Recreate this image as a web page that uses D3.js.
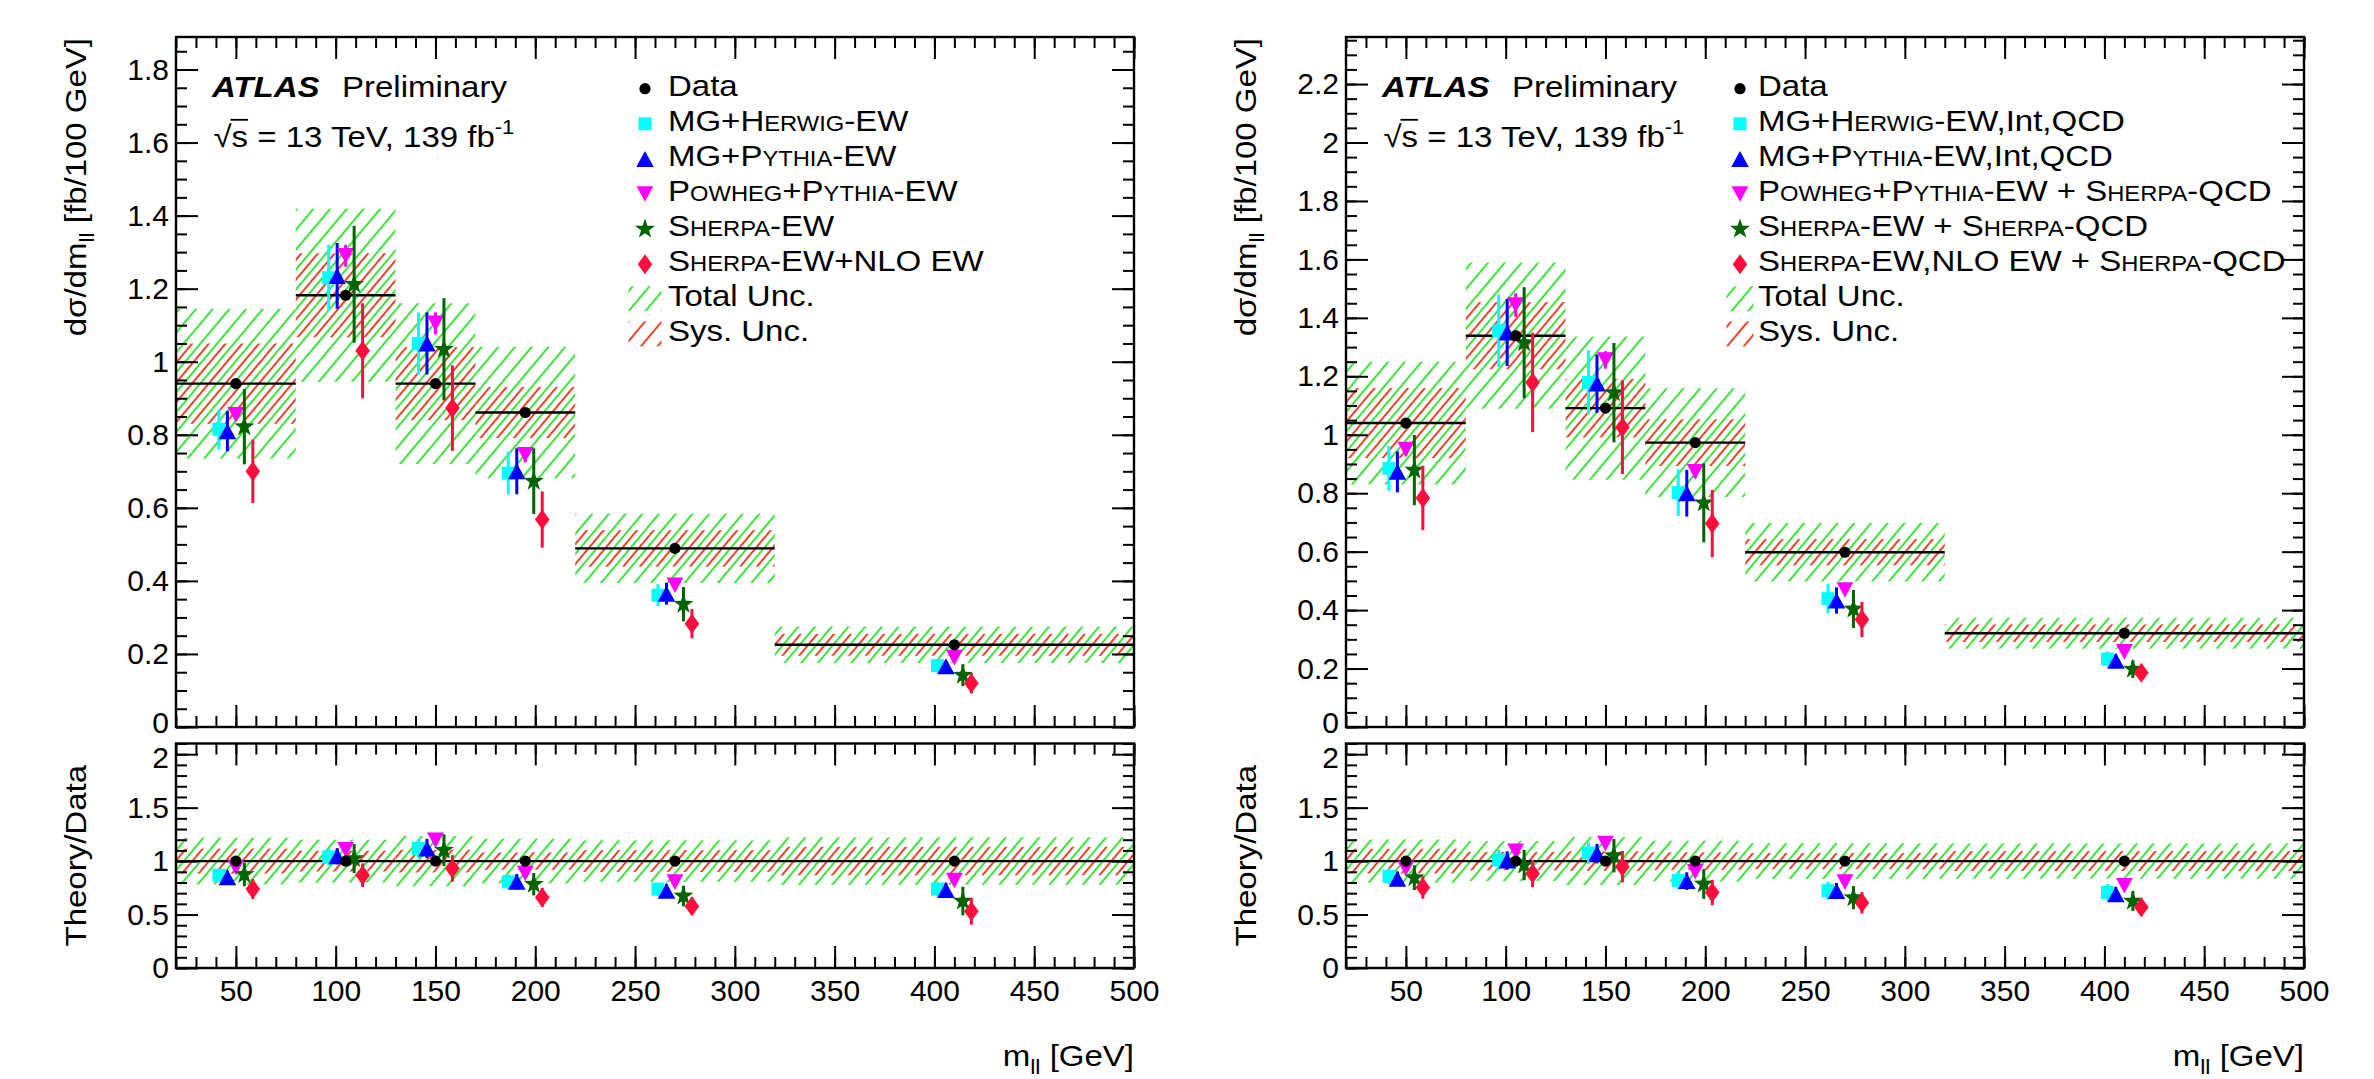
<!DOCTYPE html>
<html>
<head>
<meta charset="utf-8">
<script src="https://cdn.jsdelivr.net/npm/d3@7"></script>
<style>
  body { margin: 0; background: #fff; }
  text { font-family: "Liberation Sans", Arial, Helvetica, sans-serif; white-space: pre; }
</style>
</head>
<body>
<svg id="chart" width="2374" height="1079"></svg>
<script>
// m_ll binning
var binEdges = [20, 80, 130, 170, 220, 320, 500];
var binCentres = [50, 105, 150, 195, 270, 410];
var xTicks = [50, 100, 150, 200, 250, 300, 350, 400, 450, 500];
var ewYTicks = [0, 0.2, 0.4, 0.6, 0.8, 1, 1.2, 1.4, 1.6, 1.8];
var inclYTicks = [0, 0.2, 0.4, 0.6, 0.8, 1, 1.2, 1.4, 1.6, 1.8, 2, 2.2];
var ratioTicks = [0, 0.5, 1, 1.5, 2];

// left: EW only
var ewData = [0.94, 1.182, 0.94, 0.861, 0.489, 0.225];
var ewTotUnc = [0.205, 0.237, 0.22, 0.18, 0.095, 0.05];
var ewSysUnc = [0.11, 0.115, 0.1, 0.07, 0.05, 0.03];
// order: MG+Herwig, MG+Pythia, Powheg+Pythia, Sherpa, Sherpa NLO EW
var ewPred = [
  [0.815, 1.23, 1.05, 0.695, 0.361, 0.168],
  [0.81, 1.235, 1.05, 0.70, 0.365, 0.166],
  [0.855, 1.29, 1.105, 0.745, 0.388, 0.19],
  [0.822, 1.212, 1.034, 0.673, 0.336, 0.142],
  [0.70, 1.03, 0.873, 0.568, 0.283, 0.12]
];
var ewPredErr = [
  [0.055, 0.09, 0.085, 0.058, 0.03, 0.015],
  [0.055, 0.09, 0.085, 0.063, 0.03, 0.015],
  [0.015, 0.03, 0.03, 0.02, 0.01, 0.008],
  [0.103, 0.16, 0.14, 0.09, 0.047, 0.03],
  [0.087, 0.13, 0.117, 0.077, 0.04, 0.028]
];
var ewRatio = [
  [0.868, 1.039, 1.118, 0.806, 0.738, 0.738],
  [0.85, 1.046, 1.118, 0.806, 0.723, 0.73],
  [0.94, 1.105, 1.195, 0.884, 0.803, 0.819],
  [0.875, 1.024, 1.102, 0.784, 0.674, 0.626],
  [0.738, 0.868, 0.931, 0.66, 0.578, 0.53]
];

// right: EW + Int + QCD
var inclData = [1.04, 1.339, 1.091, 0.973, 0.598, 0.321];
var inclTotUnc = [0.21, 0.25, 0.245, 0.186, 0.1, 0.053];
var inclSysUnc = [0.12, 0.115, 0.1, 0.08, 0.045, 0.03];
var inclPred = [
  [0.885, 1.356, 1.179, 0.802, 0.439, 0.233],
  [0.873, 1.35, 1.175, 0.80, 0.433, 0.227],
  [0.949, 1.444, 1.256, 0.873, 0.469, 0.257],
  [0.879, 1.315, 1.144, 0.767, 0.404, 0.198],
  [0.784, 1.179, 1.026, 0.696, 0.368, 0.186]
];
var inclPredErr = [
  [0.077, 0.124, 0.11, 0.08, 0.05, 0.025],
  [0.07, 0.115, 0.1, 0.08, 0.045, 0.022],
  [0.02, 0.04, 0.03, 0.02, 0.01, 0.01],
  [0.12, 0.19, 0.17, 0.135, 0.065, 0.03],
  [0.11, 0.17, 0.16, 0.115, 0.06, 0.025]
];
var inclRatio = [
  [0.857, 1.011, 1.076, 0.819, 0.723, 0.706],
  [0.835, 1.005, 1.07, 0.813, 0.72, 0.69],
  [0.931, 1.092, 1.165, 0.9, 0.803, 0.77],
  [0.845, 0.963, 1.05, 0.786, 0.658, 0.626],
  [0.754, 0.883, 0.947, 0.706, 0.61, 0.569]
];

// legend text pieces, second element = small caps
var ewLegend = [
  [["MG+H"], ["ERWIG", 1], ["-EW"]],
  [["MG+P"], ["YTHIA", 1], ["-EW"]],
  [["P"], ["OWHEG", 1], ["+P"], ["YTHIA", 1], ["-EW"]],
  [["S"], ["HERPA", 1], ["-EW"]],
  [["S"], ["HERPA", 1], ["-EW+NLO EW"]]
];
var inclLegend = [
  [["MG+H"], ["ERWIG", 1], ["-EW,Int,QCD"]],
  [["MG+P"], ["YTHIA", 1], ["-EW,Int,QCD"]],
  [["P"], ["OWHEG", 1], ["+P"], ["YTHIA", 1], ["-EW + S"], ["HERPA", 1], ["-QCD"]],
  [["S"], ["HERPA", 1], ["-EW + S"], ["HERPA", 1], ["-QCD"]],
  [["S"], ["HERPA", 1], ["-EW,NLO EW + S"], ["HERPA", 1], ["-QCD"]]
];

var colours = ["#00ffff", "#0000ff", "#ff00ff", "#006400", "#ff0d3d"];
var shapes = ["square", "triUp", "triDown", "star", "diamond"];
var shiftGeV = [-8.5, -4.25, 0, 4.25, 8.5];

var mainTop = 37, mainBot = 727, ratioTop = 743.5, ratioBot = 968;
var stretch = "scale(1.1,1)";

var svg = d3.select("#chart");
var defs = svg.append("defs");

function hatch(id, colour, offset) {
  var p = defs.append("pattern")
      .attr("id", id)
      .attr("patternUnits", "userSpaceOnUse")
      .attr("width", 12.8)
      .attr("height", 12.8)
      .attr("patternTransform", "rotate(40)");
  p.append("line")
      .attr("x1", offset).attr("x2", offset)
      .attr("y1", -1).attr("y2", 13.8)
      .attr("stroke", colour)
      .attr("stroke-width", 1.8);
}
hatch("hatchTot", "#22dd22", 3.2);
hatch("hatchSys", "#dd2a0a", 9.6);

function markerPath(shape) {
  if (shape === "square") return "M-6.5,-6.5H6.5V6.5H-6.5Z";
  if (shape === "triUp") return "M-8.8,8L8.8,8L0,-8Z";
  if (shape === "triDown") return "M-8.4,-7.8L8.4,-7.8L0,7.8Z";
  if (shape === "diamond") return "M0,-10L7.3,0L0,10L-7.3,0Z";
  var pts = [];
  for (var k = 0; k < 10; k++) {
    var r = k % 2 ? 4.2 : 10.5,
        a = -Math.PI / 2 + k * Math.PI / 5;
    pts.push([r * Math.cos(a), r * Math.sin(a)]);
  }
  return "M" + pts.join("L") + "Z";
}

function fmt(d) { return String(+d.toFixed(2)); }

function axis(g, gen, values, size, labels, pad) {
  g.call(gen.tickValues(values).tickSize(-size).tickPadding(pad || 0)
      .tickFormat(labels ? fmt : ""));
  g.select(".domain").remove();
  g.selectAll("line").attr("stroke", "#000").attr("stroke-width", 2);
  g.attr("font-size", 30).attr("font-family", null);
  return g;
}

// nudge: {tick value: vertical shift} for labels that sit at the pad edges
function pad(g, x, y, yTicksMajor, yMinorStep, xLabels, nudge) {
  var xr = x.range(), yr = y.range();
  var yMinor = d3.range(0, y.domain()[1] + 1e-9, yMinorStep);
  var xMinor = d3.range(20, 501, 10);
  [[d3.axisBottom, yr[0]], [d3.axisTop, yr[1]]].forEach(function(a, j) {
    axis(g.append("g").attr("transform", "translate(0," + a[1] + ")"), a[0](x), xMinor, 11, false);
    axis(g.append("g").attr("transform", "translate(0," + a[1] + ")"), a[0](x), xTicks, 22, j === 0 && xLabels, 12);
  });
  [[d3.axisLeft, xr[0]], [d3.axisRight, xr[1]]].forEach(function(a, j) {
    axis(g.append("g").attr("transform", "translate(" + a[1] + ",0)"), a[0](y), yMinor, 11, false);
    var ax = axis(g.append("g").attr("transform", "translate(" + a[1] + ",0)"), a[0](y), yTicksMajor, 22, j === 0, 7);
    ax.selectAll("text")
        .filter(function(d) { return nudge[d] !== undefined; })
        .attr("y", function(d) { return nudge[d]; });
  });
  g.append("rect")
      .attr("x", xr[0]).attr("y", yr[1])
      .attr("width", xr[1] - xr[0]).attr("height", yr[0] - yr[1])
      .attr("fill", "none").attr("stroke", "#000").attr("stroke-width", 2.4);
}

function points(g, x, y, centre, tot, sys, pred, err) {
  var bins = d3.range(binCentres.length);
  [["hatchTot", tot], ["hatchSys", sys]].forEach(function(b) {
    g.selectAll(null).data(bins).enter().append("rect")
        .attr("x", function(i) { return x(binEdges[i]); })
        .attr("width", function(i) { return x(binEdges[i + 1]) - x(binEdges[i]); })
        .attr("y", function(i) { return y(centre[i] + b[1][i]); })
        .attr("height", function(i) { return y(centre[i] - b[1][i]) - y(centre[i] + b[1][i]); })
        .attr("fill", "url(#" + b[0] + ")");
  });
  g.selectAll(null).data(bins).enter().append("line")
      .attr("x1", function(i) { return x(binEdges[i]); })
      .attr("x2", function(i) { return x(binEdges[i + 1]); })
      .attr("y1", function(i) { return y(centre[i]); })
      .attr("y2", function(i) { return y(centre[i]); })
      .attr("stroke", "#000").attr("stroke-width", 2.4);
  pred.forEach(function(vals, m) {
    var s = g.append("g");
    s.selectAll(null).data(bins).enter().append("line")
        .attr("x1", function(i) { return x(binCentres[i] + shiftGeV[m]); })
        .attr("x2", function(i) { return x(binCentres[i] + shiftGeV[m]); })
        .attr("y1", function(i) { return y(vals[i] - err[m][i]); })
        .attr("y2", function(i) { return y(vals[i] + err[m][i]); })
        .attr("stroke", colours[m]).attr("stroke-width", 3);
    s.selectAll(null).data(bins).enter().append("path")
        .attr("d", markerPath(shapes[m]))
        .attr("transform", function(i) {
          return "translate(" + x(binCentres[i] + shiftGeV[m]) + "," + y(vals[i]) + ")";
        })
        .attr("fill", colours[m]);
  });
  g.selectAll(null).data(bins).enter().append("circle")
      .attr("cx", function(i) { return x(binCentres[i]); })
      .attr("cy", function(i) { return y(centre[i]); })
      .attr("r", 5.6)
      .attr("fill", "#000");
}

function richText(g, x, y, parts, size, anchor, rotate) {
  var t = g.append("text")
      .attr("transform", "translate(" + x + "," + y + ")" + (rotate ? " rotate(-90)" : "") + " " + stretch)
      .attr("font-size", size)
      .attr("text-anchor", anchor || "start");
  parts.forEach(function(p) {
    var ts = t.append("tspan").text(p[0]);
    if (p[1] === 1) ts.attr("font-size", size * 0.72);
    if (p[1] === 2) ts.attr("font-size", size * 0.7).attr("dy", 8);
    if (p[1] === 3) ts.attr("dy", -8);
  });
  return t;
}

var panels = [
  {x0: 176, x1: 1134, yMax: 1.889, yTicks: ewYTicks, data: ewData, tot: ewTotUnc, sys: ewSysUnc,
   pred: ewPred, err: ewPredErr, ratio: ewRatio, legend: ewLegend, legX: 645, textX: 668, boxW: 33},
  {x0: 1346, x1: 2304, yMax: 2.361, yTicks: inclYTicks, data: inclData, tot: inclTotUnc, sys: inclSysUnc,
   pred: inclPred, err: inclPredErr, ratio: inclRatio, legend: inclLegend, legX: 1740, textX: 1758, boxW: 27}
];

panels.forEach(function(p, n) {
  var g = svg.append("g");
  var x = d3.scaleLinear().domain([20, 500]).range([p.x0, p.x1]);
  var y = d3.scaleLinear().domain([0, p.yMax]).range([mainBot, mainTop]);
  var yr = d3.scaleLinear().domain([0, 2.1]).range([ratioBot, ratioTop]);

  var clipM = "clipM" + n, clipR = "clipR" + n;
  defs.append("clipPath").attr("id", clipM).append("rect")
      .attr("x", p.x0).attr("y", mainTop).attr("width", p.x1 - p.x0).attr("height", mainBot - mainTop);
  defs.append("clipPath").attr("id", clipR).append("rect")
      .attr("x", p.x0).attr("y", ratioTop).attr("width", p.x1 - p.x0).attr("height", ratioBot - ratioTop);

  // main pad
  points(g.append("g").attr("clip-path", "url(#" + clipM + ")"), x, y,
         p.data, p.tot, p.sys, p.pred, p.err);
  pad(g.append("g"), x, y, p.yTicks, 0.05, false, {0: -4});

  // ratio pad: uncertainties relative to data
  var ones = p.data.map(function() { return 1; });
  points(g.append("g").attr("clip-path", "url(#" + clipR + ")"), x, yr, ones,
         p.tot.map(function(u, i) { return u / p.data[i]; }),
         p.sys.map(function(u, i) { return u / p.data[i]; }),
         p.ratio,
         p.err.map(function(row) { return row.map(function(u, i) { return u / p.data[i]; }); }));
  pad(g.append("g"), x, yr, ratioTicks, 0.1, true, {2: 4});

  // axis titles
  richText(g, p.x0 - 90, mainTop + 1, [["d\u03c3/dm"], ["ll", 2], [" [fb/100 GeV]", 3]], 30, "end", true);
  richText(g, p.x0 - 90, (ratioTop + ratioBot) / 2, [["Theory/Data"]], 30, "middle", true);
  richText(g, p.x1, 1066, [["m"], ["ll", 2], [" [GeV]", 3]], 30, "end");

  // ATLAS label
  g.append("text")
      .attr("transform", "translate(" + (p.x0 + 36) + ",96.7) " + stretch)
      .attr("font-size", 30).attr("font-weight", "bold").attr("font-style", "italic")
      .text("ATLAS");
  g.append("text")
      .attr("transform", "translate(" + (p.x0 + 166) + ",96.7) " + stretch)
      .attr("font-size", 30).text("Preliminary");
  var lum = g.append("g").attr("transform", "translate(" + (p.x0 + 37.5) + ",147.3) " + stretch);
  var lt = lum.append("text").attr("font-size", 30);
  lt.append("tspan").text("\u221a");
  lt.append("tspan").text("s = 13 TeV, 139 fb");
  lt.append("tspan").attr("font-size", 20).attr("dy", -13).text("-1");
  var wRoot = lt.node().getSubStringLength(0, 1),
      wS = lt.node().getSubStringLength(1, 1);
  lum.append("line")
      .attr("x1", wRoot - 1).attr("x2", wRoot + wS)
      .attr("y1", -27.5).attr("y2", -27.5)
      .attr("stroke", "#000").attr("stroke-width", 1.8);

  // legend
  var rowY = function(k) { return 95.7 + 35.1 * k; };
  g.append("circle").attr("cx", p.legX).attr("cy", rowY(0) - 7).attr("r", 5.6).attr("fill", "#000");
  richText(g, p.textX, rowY(0), [["Data"]], 30);
  p.legend.forEach(function(parts, m) {
    g.append("path")
        .attr("d", markerPath(shapes[m]))
        .attr("transform", "translate(" + p.legX + "," + (rowY(m + 1) - 7) + ")")
        .attr("fill", colours[m]);
    richText(g, p.textX, rowY(m + 1), parts, 30);
  });
  [["hatchTot", "Total Unc."], ["hatchSys", "Sys. Unc."]].forEach(function(b, k) {
    g.append("rect")
        .attr("x", p.legX - p.boxW / 2).attr("y", rowY(6 + k) - 20)
        .attr("width", p.boxW).attr("height", 25)
        .attr("fill", "url(#" + b[0] + ")");
    richText(g, p.textX, rowY(6 + k), [[b[1]]], 30);
  });
});
</script>
</body>
</html>
